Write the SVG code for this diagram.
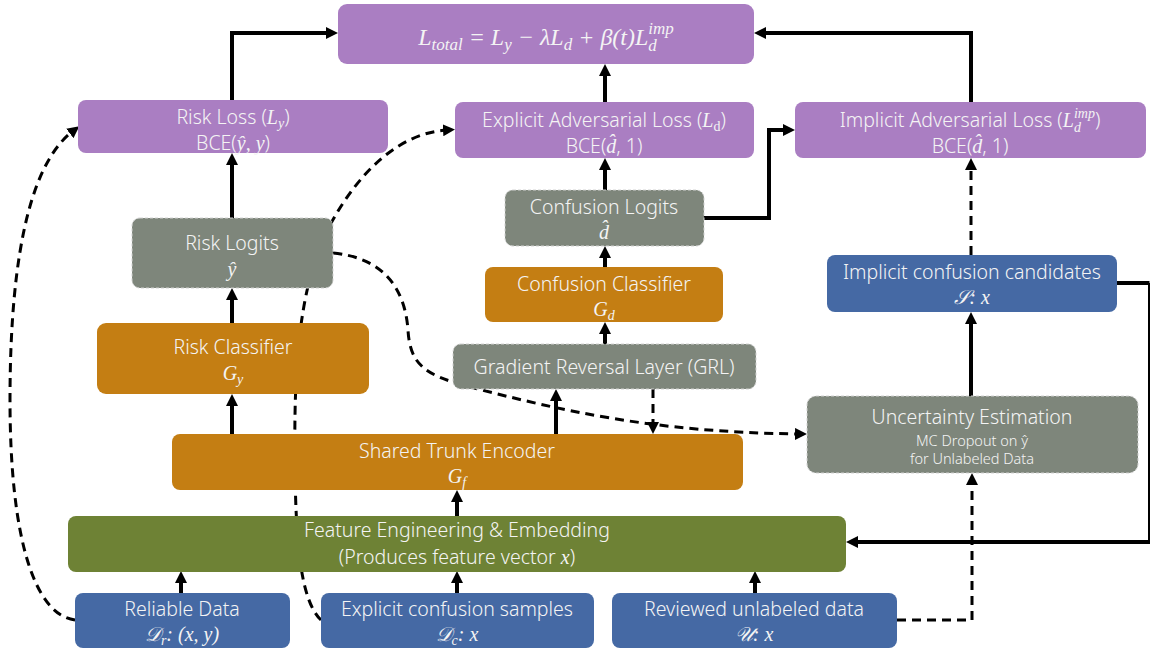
<svg xmlns="http://www.w3.org/2000/svg" width="1150" height="654" viewBox="0 0 1150 654">
<style>
.box{stroke:none}
.pu{fill:#AA7EC2}
.gr{fill:#7E867B;stroke:#D2D2D2;stroke-width:1;stroke-dasharray:3 2}
.or{fill:#C47E13}
.bl{fill:#4569A4}
.gn{fill:#6E8235}
.t{font-family:"Noto Sans","Liberation Sans",sans-serif;font-weight:300;fill:#F4F4F4;font-size:19.5px;text-anchor:middle}
.sm{font-size:14.5px}
.m{font-family:"Liberation Serif","DejaVu Serif",serif;font-style:italic;font-weight:400;font-size:20px}
.sub{font-size:14px}
.f{font-size:24px}
.fs{font-size:17px}
.c{fill:none;stroke:#000;stroke-width:4}
.d{fill:none;stroke:#000;stroke-width:3;stroke-dasharray:9 6}
</style>
<defs>
<marker id="ah" markerUnits="userSpaceOnUse" viewBox="0 0 12 12" markerWidth="12" markerHeight="12" refX="4" refY="6" orient="auto">
<path d="M0,0 L12,6 L0,12 z" fill="#000"/>
</marker>
</defs>
<rect width="1150" height="654" fill="#fff"/>

<g id="connectors">
<path class="c" d="M232,100 V33 H330" marker-end="url(#ah)"/>
<path class="c" d="M605,102 V72" marker-end="url(#ah)"/>
<path class="c" d="M971,102 V33 H762" marker-end="url(#ah)"/>
<path class="c" d="M232,218 V161" marker-end="url(#ah)"/>
<path class="c" d="M605,190 V166" marker-end="url(#ah)"/>
<path class="c" d="M704,218 H769 V130 H787" marker-end="url(#ah)"/>
<path class="c" d="M605,267 V254" marker-end="url(#ah)"/>
<path class="c" d="M605,344 V330" marker-end="url(#ah)"/>
<path class="c" d="M232,323 V296" marker-end="url(#ah)"/>
<path class="c" d="M232,434 V402" marker-end="url(#ah)"/>
<path class="c" d="M556,434 V397" marker-end="url(#ah)"/>
<path class="d" d="M653,389 V426" marker-end="url(#ah)"/>
<path class="c" d="M457,516 V498" marker-end="url(#ah)"/>
<path class="c" d="M181,593 V579" marker-end="url(#ah)"/>
<path class="c" d="M457,593 V579" marker-end="url(#ah)"/>
<path class="c" d="M755,593 V579" marker-end="url(#ah)"/>
<path class="d" d="M897,620 H972 V481" marker-end="url(#ah)"/>
<path class="c" d="M971,396 V320" marker-end="url(#ah)"/>
<path class="d" d="M971,255 V166" marker-end="url(#ah)"/>
<path class="c" d="M1117,283 H1149.5"/>
<path fill="none" stroke="#000" stroke-width="3" d="M1149.5,283 V542"/>
<path class="c" d="M1150,542 H854" marker-end="url(#ah)"/>
<path class="d" d="M75,620 C35,615 10,540 10,400 C10,240 35,160 73,131" marker-end="url(#ah)"/>
<path class="d" d="M321,620 C300,600 296,540 295,470 C294,380 296,290 330,225 C360,170 400,133 447,130" marker-end="url(#ah)"/>
<path class="d" d="M333,253 C385,258 405,290 408,330 C410,365 425,375 470,387 C560,410 650,432 799,434" marker-end="url(#ah)"/>
</g>

<g id="total">
<rect class="box pu" x="338" y="4" width="416" height="60" rx="9"/>
<text class="t m f" x="546" y="45"><tspan>L</tspan><tspan class="fs" dy="5">total</tspan><tspan dy="-5"> = L</tspan><tspan class="fs" dy="5">y</tspan><tspan dy="-5"> − λL</tspan><tspan class="fs" dy="5">d</tspan><tspan dy="-5"> + β(t)L</tspan><tspan class="fs" dy="-11">imp</tspan><tspan class="fs" dx="-25.5" dy="17">d</tspan><tspan class="fs" dx="17"> </tspan></text>
</g>

<g id="risk-loss">
<rect class="box pu" x="78" y="100" width="310" height="53" rx="8"/>
<text class="t" x="233" y="124">Risk Loss (<tspan class="m">L</tspan><tspan class="m sub" dy="4">y</tspan><tspan dy="-4">)</tspan></text>
<text class="t" x="233" y="150">BCE(<tspan class="m">ŷ, y</tspan>)</text>
</g>

<g id="explicit-loss">
<rect class="box pu" x="455" y="102" width="299" height="56" rx="8"/>
<text class="t" x="604" y="127">Explicit Adversarial Loss (<tspan class="m">L</tspan><tspan font-family="Liberation Serif" class="sub" dy="4">d</tspan><tspan dy="-4">)</tspan></text>
<text class="t" x="604" y="153">BCE(<tspan class="m">d̂</tspan>, 1)</text>
</g>

<g id="implicit-loss">
<rect class="box pu" x="795" y="102" width="351" height="56" rx="8"/>
<text class="t" x="970" y="127">Implicit Adversarial Loss (<tspan class="m">L</tspan><tspan class="m sub" dy="-9">imp</tspan><tspan class="m sub" dx="-21" dy="14">d</tspan><tspan dx="14" dy="-5">)</tspan></text>
<text class="t" x="970" y="153">BCE(<tspan class="m">d̂</tspan>, 1)</text>
</g>

<g id="risk-logits">
<rect class="gr" x="132" y="218" width="201" height="70" rx="8"/>
<text class="t" x="232" y="250">Risk Logits</text>
<text class="t m" x="232" y="276">ŷ</text>
</g>

<g id="confusion-logits">
<rect class="gr" x="505" y="190" width="199" height="56" rx="8"/>
<text class="t" x="604" y="214">Confusion Logits</text>
<text class="t m" x="604" y="239">d̂</text>
</g>

<g id="confusion-classifier">
<rect class="box or" x="485" y="267" width="238" height="55" rx="8"/>
<text class="t" x="604" y="291">Confusion Classifier</text>
<text class="t m" x="604" y="316">G<tspan class="sub" dy="4">d</tspan></text>
</g>

<g id="risk-classifier">
<rect class="box or" x="97" y="323" width="272" height="71" rx="9"/>
<text class="t" x="233" y="354">Risk Classifier</text>
<text class="t m" x="233" y="380">G<tspan class="sub" dy="4">y</tspan></text>
</g>

<g id="grl">
<rect class="gr" x="453" y="344" width="303" height="45" rx="8"/>
<text class="t" x="604" y="374">Gradient Reversal Layer (GRL)</text>
</g>

<g id="candidates">
<rect class="box bl" x="827" y="255" width="290" height="57" rx="8"/>
<text class="t" x="972" y="279">Implicit confusion candidates</text>
<text class="t m" x="972" y="304">𝒮: x</text>
</g>

<g id="uncertainty">
<rect class="gr" x="807" y="396" width="331" height="77" rx="9"/>
<text class="t" x="972" y="424">Uncertainty Estimation</text>
<text class="t sm" x="972" y="446">MC Dropout on ŷ</text>
<text class="t sm" x="972" y="464">for Unlabeled Data</text>
</g>

<g id="trunk">
<rect class="box or" x="172" y="434" width="571" height="56" rx="8"/>
<text class="t" x="457" y="458">Shared Trunk Encoder</text>
<text class="t m" x="457" y="483">G<tspan class="sub" dy="4">f</tspan></text>
</g>

<g id="feature">
<rect class="box gn" x="68" y="516" width="778" height="56" rx="8"/>
<text class="t" x="457" y="537">Feature Engineering &amp; Embedding</text>
<text class="t" x="457" y="564">(Produces feature vector <tspan class="m">x</tspan>)</text>
</g>

<g id="reliable">
<rect class="box bl" x="75" y="593" width="215" height="55" rx="8"/>
<text class="t" x="182" y="616">Reliable Data</text>
<text class="t m" x="182" y="641">𝒟<tspan class="sub" dy="4">r</tspan><tspan dy="-4">: (x, y)</tspan></text>
</g>

<g id="explicit-samples">
<rect class="box bl" x="321" y="593" width="273" height="55" rx="8"/>
<text class="t" x="457" y="616">Explicit confusion samples</text>
<text class="t m" x="457" y="641">𝒟<tspan class="sub" dy="4">c</tspan><tspan dy="-4">: x</tspan></text>
</g>

<g id="reviewed">
<rect class="box bl" x="612" y="593" width="285" height="55" rx="8"/>
<text class="t" x="754" y="616">Reviewed unlabeled data</text>
<text class="t m" x="754" y="641">𝒰: x</text>
</g>
</svg>
